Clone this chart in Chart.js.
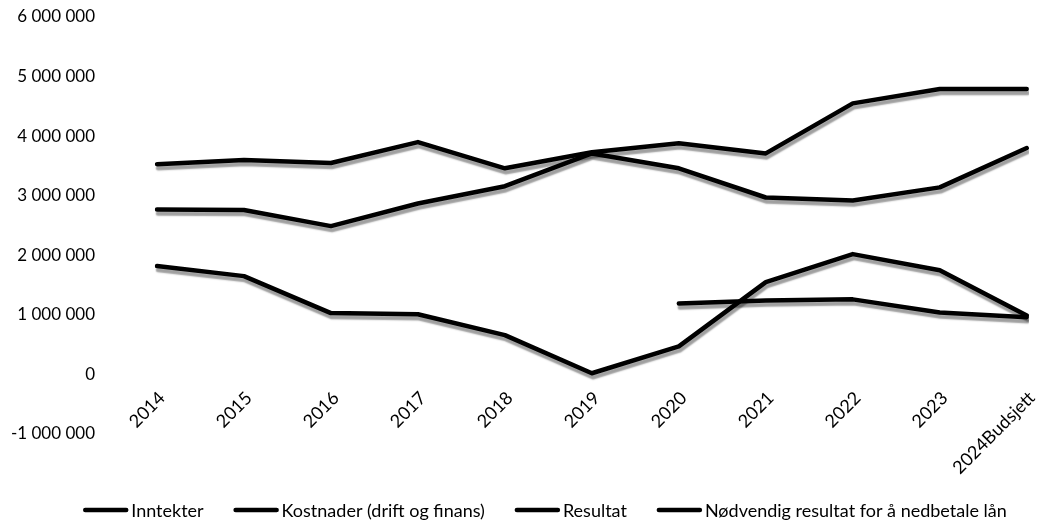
<!DOCTYPE html>
<html>
<head>
<meta charset="utf-8">
<script src="https://cdn.jsdelivr.net/npm/chart.js@4/dist/chart.umd.min.js"></script>
<style>
  html, body { margin: 0; padding: 0; background: #fff; }
  #wrap { width: 1047px; height: 522px; position: relative; }
</style>
</head>
<body>
<div id="wrap"><canvas id="c"></canvas></div>
<script>
// Year categories along the x axis
const years = ['2014', '2015', '2016', '2017', '2018', '2019', '2020', '2021', '2022', '2023', '2024Budsjett'];

// Series values (NOK)
const inntekter = [3530000, 3600000, 3550000, 3900000, 3460000, 3730000, 3880000, 3710000, 4550000, 4790000, 4790000];
const kostnader = [2770000, 2760000, 2490000, 2870000, 3160000, 3710000, 3460000, 2970000, 2920000, 3140000, 3800000];
const resultat = [1820000, 1650000, 1030000, 1010000, 660000, 20000, 470000, 1550000, 2020000, 1750000, 990000];
const nodvendig = [null, null, null, null, null, null, 1190000, 1240000, 1260000, 1040000, 960000];

// Series names
const seriesNames = ['Inntekter', 'Kostnader (drift og finans)', 'Resultat', 'Nødvendig resultat for å nedbetale lån'];

// Y axis range
const yMin = -1000000;
const yMax = 6000000;
const yStep = 1000000;

const FONT = 'Lato';

// Thousands separated by spaces: 1 000 000
function fmt(v) {
  return String(v).replace(/\B(?=(\d{3})+(?!\d))/g, ' ');
}

// Soft grey drop shadow under each line
const shadowPlugin = {
  id: 'lineShadow',
  beforeDatasetDraw(chart) {
    const ctx = chart.ctx;
    ctx.save();
    ctx.shadowColor = 'rgba(0,0,0,0.38)';
    ctx.shadowBlur = 1.5;
    ctx.shadowOffsetX = 1;
    ctx.shadowOffsetY = 4;
  },
  afterDatasetDraw(chart) {
    chart.ctx.restore();
  }
};

// Bottom legend: a short thick line right before each series name
const lineLegend = {
  id: 'lineLegend',
  afterDraw(chart, args, opts) {
    const ctx = chart.ctx;
    const sample = opts.sampleWidth;
    const gapText = opts.textGap;
    const gapItem = opts.itemGap;
    ctx.save();
    ctx.font = opts.fontSize + 'px ' + FONT;
    ctx.textBaseline = 'middle';
    ctx.textAlign = 'left';
    const items = chart.data.datasets.map(ds => ({
      ds, w: sample + gapText + ctx.measureText(ds.label).width
    }));
    const total = items.reduce((s, it) => s + it.w, 0) + gapItem * (items.length - 1);
    let x = opts.centerX - total / 2;
    const y = opts.y;
    items.forEach(it => {
      ctx.beginPath();
      ctx.strokeStyle = it.ds.borderColor;
      ctx.lineWidth = it.ds.borderWidth;
      ctx.lineCap = 'round';
      ctx.moveTo(x + 2, y);
      ctx.lineTo(x + sample - 2, y);
      ctx.stroke();
      ctx.fillStyle = '#000';
      ctx.fillText(it.ds.label, x + sample + gapText, y + 1);
      x += it.w + gapItem;
    });
    ctx.restore();
  }
};

function lineSet(label, data) {
  return {
    label: label,
    data: data,
    borderColor: '#000',
    backgroundColor: '#000',
    borderWidth: 4.5,
    borderCapStyle: 'round',
    borderJoinStyle: 'round',
    pointRadius: 0,
    pointHoverRadius: 0,
    tension: 0,
    fill: false,
    spanGaps: false
  };
}

new Chart(document.getElementById('c'), {
  type: 'line',
  data: {
    labels: years,
    datasets: [
      lineSet(seriesNames[0], inntekter),
      lineSet(seriesNames[1], kostnader),
      lineSet(seriesNames[2], resultat),
      lineSet(seriesNames[3], nodvendig)
    ]
  },
  plugins: [shadowPlugin, lineLegend],
  options: {
    responsive: true,
    maintainAspectRatio: false,
    animation: false,
    layout: { padding: { top: 17, right: 5, left: 0, bottom: 88 } },
    plugins: {
      tooltip: { enabled: false },
      legend: { display: false },
      lineLegend: {
        sampleWidth: 45,
        textGap: 3,
        itemGap: 30,
        fontSize: 18,
        centerX: 545,
        y: 510
      }
    },
    scales: {
      x: {
        type: 'category',
        position: { y: 0 },
        offset: false,
        afterFit(scale) { scale.height = 0; },
        grid: { display: false },
        border: { display: false },
        ticks: {
          autoSkip: false,
          maxRotation: 45,
          minRotation: 45,
          padding: 5,
          labelOffset: 5,
          color: '#000',
          font: { family: FONT, size: 18 }
        }
      },
      y: {
        min: yMin,
        max: yMax,
        grid: { display: false, drawTicks: false },
        border: { display: false },
        afterFit(scale) {
          scale.width = 157;
          scale.paddingTop = 0;
          scale.paddingBottom = 0;
        },
        ticks: {
          stepSize: yStep,
          padding: 62,
          color: '#000',
          font: { family: FONT, size: 17 },
          callback: (v) => fmt(v)
        }
      }
    }
  }
});
</script>
</body>
</html>
